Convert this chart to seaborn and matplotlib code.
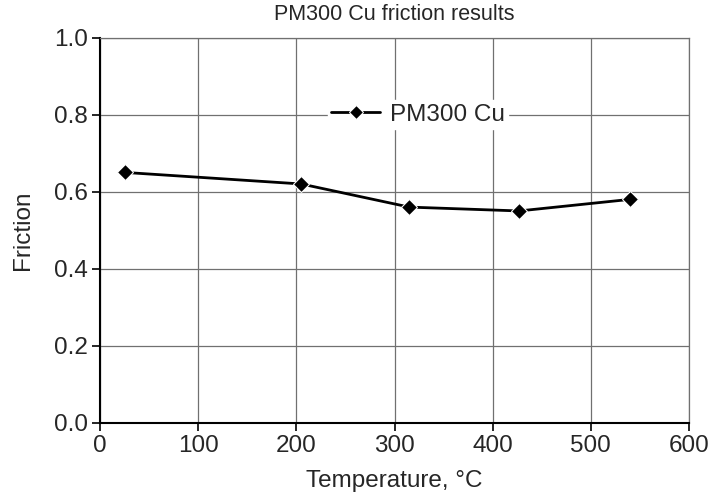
import numpy as np
import pandas as pd
import matplotlib
matplotlib.use('Agg')
import matplotlib.pyplot as plt
import seaborn as sns

# Data
temperature = [25, 205, 315, 427, 540]
friction = [0.65, 0.62, 0.56, 0.55, 0.58]
series_name = 'PM300 Cu'

df = pd.DataFrame({'Temperature': temperature, 'Friction': friction})

sns.set_style('whitegrid')
plt.rcParams['font.family'] = ['Liberation Sans', 'DejaVu Sans']

fig = plt.figure(figsize=(7.16, 5.01), dpi=100)
ax = fig.add_axes([0.14, 0.156, 0.822, 0.769])

sns.lineplot(data=df, x='Temperature', y='Friction', ax=ax, color='black',
             marker='D', markersize=8, linewidth=2, label=series_name)

ax.set_xlim(0, 600)
ax.set_ylim(0, 1.0)
ax.set_xticks(np.arange(0, 601, 100))
ax.set_yticks(np.arange(0, 1.01, 0.2))
ax.set_yticklabels([f'{v:.1f}' for v in np.arange(0, 1.01, 0.2)])
ax.tick_params(axis='both', labelsize=17.5, direction='out', length=6,
               width=1.2, color='black', left=True, bottom=True, pad=3)
ax.grid(True, color='#707070', linewidth=0.9)

for side in ['top', 'right']:
    ax.spines[side].set_color('#707070')
    ax.spines[side].set_linewidth(0.9)
for side in ['left', 'bottom']:
    ax.spines[side].set_color('black')
    ax.spines[side].set_linewidth(1.5)

ax.set_title('PM300 Cu friction results', fontsize=15.5, pad=13)
ax.set_xlabel('Temperature, °C', fontsize=17.5, labelpad=9)
ax.set_ylabel('Friction', fontsize=17.5, labelpad=14)

leg = ax.legend(loc='center', bbox_to_anchor=(0.54, 0.80), fontsize=17.5,
                frameon=True, fancybox=False, handlelength=2.0,
                handletextpad=0.4, borderpad=0.15)
leg.get_frame().set_edgecolor('white')
leg.get_frame().set_facecolor('white')
leg.get_frame().set_alpha(1)
leg.get_lines()[0].set_markersize(7)

fig.savefig('out.png', dpi=100)
